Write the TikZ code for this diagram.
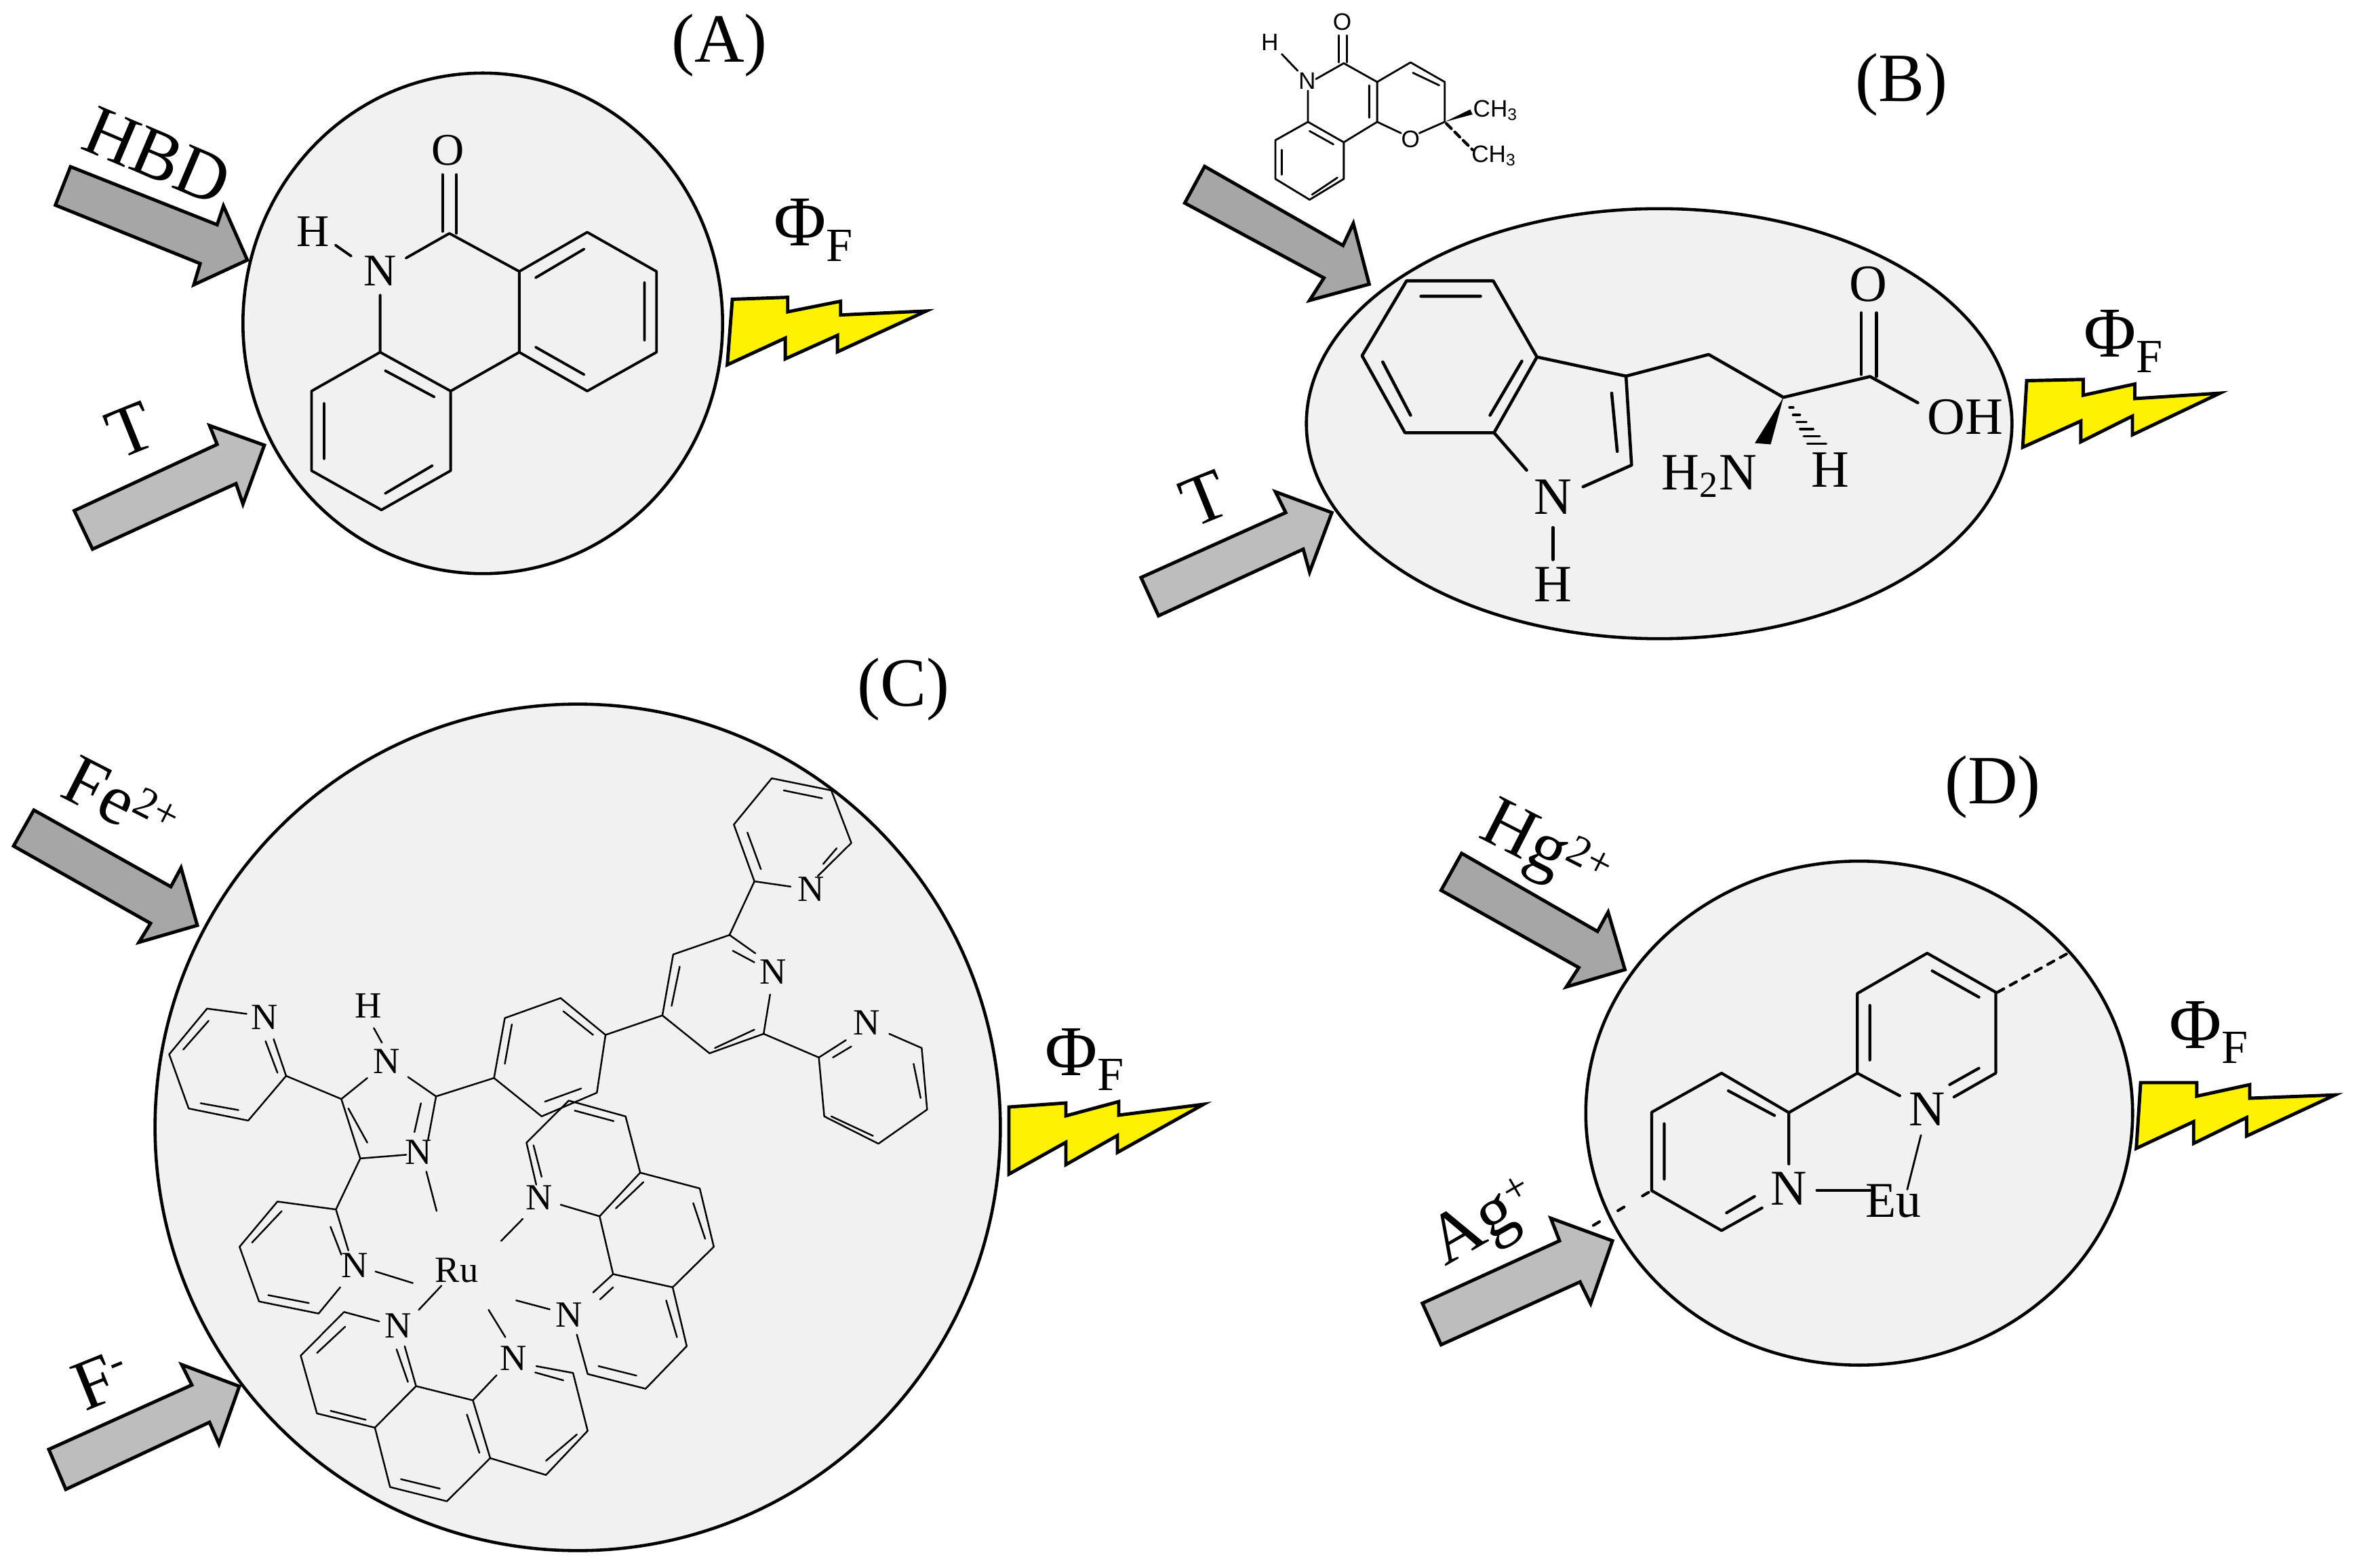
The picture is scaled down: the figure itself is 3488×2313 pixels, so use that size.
\documentclass[tikz,border=0pt]{standalone}
\usepackage{fontspec}
\setmainfont{Liberation Serif}
\newfontfamily\smallsans{Liberation Sans}
\usetikzlibrary{shapes.geometric}
\newcommand{\fs}[1]{\fontsize{#1}{#1}\selectfont}
\newcommand{\phifnode}[3]{\node[anchor=base west,inner sep=0pt] (#1) at (#2,#3) {\fs{30}Φ\raisebox{-6.3pt}{\fs{20}F}};}
\newcommand{\hashbond}[5]{%
  \foreach \t in {0.2,0.36,0.52,0.68,0.84,1.0}{%
    \pgfmathsetmacro{\hx}{#1+\t*(#3-#1)}%
    \pgfmathsetmacro{\hy}{#2+\t*(#4-#2)}%
    \pgfmathsetmacro{\hw}{\t*#5}%
    \draw (\hx-\hw,\hy) -- (\hx+\hw,\hy);}}
\tikzset{
  cell/.style={draw=black,fill=cellgray,ellipse,line width=1.3pt,inner sep=0pt,outer sep=0pt},
  darkarrow/.style={draw=black,fill=arrowdark,line width=1.4pt,line join=miter},
  lightarrow/.style={draw=black,fill=arrowlight,line width=1.4pt,line join=miter},
  bolt/.style={draw=black,fill=yellow,line width=1.4pt,line join=miter},
  atomA/.style={inner sep=0pt,font=\fs{19}},
  atomB/.style={inner sep=0pt,font=\fs{22}},
  atomC/.style={inner sep=0pt,font=\fs{15.5}},
  atomD/.style={inner sep=0pt,font=\fs{21}},
  tag/.style={inner sep=0pt,font=\fs{29}},
  flow/.style={inner sep=0pt,font=\fs{30}},
}
\definecolor{cellgray}{HTML}{F1F1F1}
\definecolor{arrowdark}{HTML}{A6A6A6}
\definecolor{arrowlight}{HTML}{BDBDBD}
\begin{document}
\begin{tikzpicture}[x=0.01cm,y=-0.01cm,line cap=round,line join=round]
\useasboundingbox (0,0) rectangle (3488,2313);
% ---------- cells
\node[cell,minimum width=7.07cm,minimum height=7.38cm] (cellA) at (712,477) {};
\node[cell,minimum width=10.40cm,minimum height=6.34cm] (cellB) at (2447,625) {};
\node[cell,minimum width=12.46cm,minimum height=12.48cm] (cellC) at (852,1663) {};
\node[cell,minimum width=8.06cm,minimum height=7.43cm] (cellD) at (2742,1642) {};
% ---------- tags
\node[tag] (tagA) at (1061,67) {(A)};
\node[tag] (tagB) at (2804,125) {(B)};
\node[tag] (tagC) at (1332,1017) {(C)};
\node[tag] (tagD) at (2939,1161) {(D)};
% ---------- quantum yield labels
\phifnode{phiA}{1141}{363}
\phifnode{phiB}{3073}{527}
\phifnode{phiC}{1541}{1586}
\phifnode{phiD}{3199}{1546}
% ---------- flow labels
\node[flow,rotate=-23] (hbd) at (232,230) {HBD};
\node[flow,rotate=22] (tA) at (192,634) {T};
\node[flow,rotate=22] (tB) at (1776,735) {T};
\node[flow,rotate=-27] (fe) at (178,1182) {Fe\raisebox{8pt}{\fs{18}2+}};
\node[flow,rotate=22] (fm) at (150,2036) {F\raisebox{9pt}{\fs{18}-}};
\node[flow,rotate=-27] (hg) at (2277,1258) {Hg\raisebox{8pt}{\fs{18}2+}};
\node[flow,rotate=30] (ag) at (2191,1807) {Ag\raisebox{8pt}{\fs{18}+}};
% ---------- panel C arrows and bolt (true pixels)
\draw[darkarrow] (50,1195)--(252,1308)--(267,1280)--(291,1365)--(205,1390)--(222,1362)--(20,1248)--cycle;
\draw[lightarrow] (72,2138)--(283,2043)--(268,2013)--(353,2045)--(323,2130)--(309,2098)--(97,2197)--cycle;
\draw[bolt] (1488,1633)--(1572,1627)--(1572,1646)--(1650,1625)--(1650,1645)--(1775,1629)--(1648,1700)--(1648,1675)--(1572,1718)--(1572,1685)--(1488,1732)--cycle;
% ---------- panel A
\begin{scope}[x=0.00928cm,y=-0.00578cm,line width=1.1pt]
\draw[darkarrow] (112,425)--(345,573)--(355,525)--(393,663)--(308,726)--(318,672)--(88,523)--cycle;
\draw[lightarrow] (118,1302)--(345,1133)--(333,1085)--(420,1135)--(386,1285)--(375,1233)--(147,1400)--cycle;
\draw[bolt,xshift=-0.06cm] (1170,763)--(1258,758)--(1258,795)--(1342,768)--(1342,803)--(1478,793)--(1337,897)--(1337,855)--(1254,915)--(1254,862)--(1162,930)--cycle;
\draw (825,692)--(933,592)--(1043,692)--(1043,898)--(933,997)--(825,898)--cycle;
\draw (851,708)--(928,635) (1024,720)--(1024,868) (851,885)--(928,955);
\draw (825,692)--(714,595)--(645,658);
\draw (703,590)--(703,445) (725,595)--(725,445);
\draw (825,898)--(716,997);
\draw (604,898)--(716,997)--(716,1200)--(606,1300)--(495,1200)--(495,997)--cycle;
\draw (612,945)--(690,1012) (515,1028)--(515,1170) (612,1258)--(687,1187);
\draw (604,752)--(604,898) (533,625)--(558,653);
\node[atomA] (aO) at (712,383) {O};
\node[atomA] (aH) at (497,590) {H};
\node[atomA] (aN) at (604,690) {N};
\end{scope}
% ---------- panel B
\begin{scope}[shift={(1650,0)},x=0.01172cm,y=-0.00613cm,line width=1.3pt]
\draw[darkarrow] (108,400)--(282,590)--(295,537)--(315,683)--(240,722)--(258,668)--(83,488)--cycle;
\draw[lightarrow] (28,1388)--(210,1232)--(197,1182)--(268,1232)--(240,1375)--(232,1320)--(50,1480)--cycle;
\draw[bolt] (1142,915)--(1213,912)--(1213,950)--(1278,923)--(1278,958)--(1385,945)--(1275,1045)--(1275,1000)--(1210,1062)--(1210,1012)--(1137,1075)--cycle;
% small molecule
\begin{scope}[line width=0.8pt]
\draw (277,85)--(277,150) (287,85)--(287,150);
\draw (248,190)--(283,152)--(325,197)--(367,150)--(410,197)--(410,293)--(378,320);
\draw (355,320)--(325,293)--(325,197);
\draw (370,175)--(403,205) (315,205)--(315,283);
\draw (205,130)--(225,170) (238,218)--(238,293);
\draw (325,293)--(283,342);
\draw (238,293)--(283,342)--(283,430)--(240,480)--(197,430)--(197,337)--cycle;
\draw (240,315)--(270,347) (205,360)--(205,420) (243,468)--(275,427);
\fill (410,293)--(445,275)--(442,263)--cycle;
\draw[densely dashed,line width=1.2pt] (412,297)--(445,360);
\node[inner sep=0pt,font=\smallsans\fs{10}] (sO1) at (281,52) {O};
\node[inner sep=0pt,font=\smallsans\fs{10}] (sH) at (190,102) {H};
\node[inner sep=0pt,font=\smallsans\fs{10}] (sN) at (237,195) {N};
\node[inner sep=0pt,font=\smallsans\fs{10}] (sO2) at (367,335) {O};
\node[inner sep=0pt,font=\smallsans\fs{10}] (sMe1) at (474,265) {CH\textsubscript{3}};
\node[inner sep=0pt,font=\smallsans\fs{10}] (sMe2) at (472,375) {CH\textsubscript{3}};
\end{scope}
% tryptophan
\draw (362,675)--(471,675)--(526,858)--(472,1040)--(360,1040)--(306,855)--cycle;
\draw (380,712)--(455,712) (332,870)--(367,998) (507,868)--(467,998);
\draw (526,858)--(638,904)--(645,1118)--(584,1170) (472,1040)--(513,1130) (620,945)--(627,1085);
\draw (546,1268)--(546,1345);
\draw (638,904)--(742,852)--(836,955)--(945,905)--(1005,968);
\draw (934,752)--(934,900) (953,752)--(953,905);
\fill (836,955)--(800,1065)--(820,1068)--cycle;
\begin{scope}[line width=1pt]
\hashbond{838}{958}{878}{1066}{12}
\end{scope}
\node[atomB] (bO) at (943,683) {O};
\node[atomB] (bOH) at (1065,1003) {OH};
\node[atomB] (bNH) at (743,1145) {H\textsubscript{2}N};
\node[atomB] (bH) at (895,1130) {H};
\node[atomB] (bN) at (546,1195) {N};
\node[atomB] (bH2) at (546,1405) {H};
\end{scope}
% ---------- panel C molecule
\begin{scope}[shift={(200,1100)},x=0.00798cm,y=-0.00775cm,line width=0.7pt]
% top pyridine
\draw (1260,248)--(1322,185)--(1285,85)--(1175,62)--(1105,150)--(1143,258)--(1210,268);
\draw (1197,85)--(1268,100) (1130,165)--(1155,235) (1295,195)--(1270,225);
\draw (1143,258)--(1097,360);
% central pyridine
\draw (1145,395)--(1097,360)--(993,397)--(973,513)--(1060,585)--(1160,548)--(1172,473);
\draw (1103,390)--(1143,412) (1005,420)--(990,495) (1070,575)--(1143,540);
\draw (1160,548)--(1262,593);
% right pyridine
\draw (1312,560)--(1262,593)--(1272,705)--(1372,757)--(1462,692)--(1452,575)--(1392,548);
\draw (1288,593)--(1322,572) (1285,705)--(1362,742) (1450,670)--(1437,605);
\draw (973,513)--(868,550);
% benzene
\draw (868,550)--(785,480)--(682,518)--(662,632)--(750,705)--(852,660)--cycle;
\draw (790,505)--(845,550) (695,530)--(682,605) (756,677)--(823,652);
\draw (662,632)--(555,667);
% imidazole
\draw (503,630)--(555,667)--(540,750) (527,680)--(515,735);
\draw (500,778)--(415,785)--(380,672)--(428,632) (428,755)--(393,690);
\draw (440,537)--(455,565) (537,810)--(556,885);
\draw (380,672)--(278,628);
% left pyridine
\draw (255,558)--(278,628)--(208,713)--(98,690)--(62,587)--(132,500)--(205,510);
\draw (240,562)--(262,622) (120,680)--(190,693) (88,578)--(135,523);
\draw (415,785)--(370,882);
% lower pyridine
\draw (393,960)--(370,882)--(262,867)--(192,953)--(228,1057)--(338,1080)--(378,1030);
\draw (360,915)--(380,968) (215,945)--(270,885) (245,1045)--(320,1060);
\draw (443,1000)--(512,1022) (565,1027)--(523,1073);
% lower phenanthroline
\draw (450,1095)--(385,1077)--(305,1160)--(335,1270)--(442,1297)--(518,1218)--(497,1142);
\draw (482,1148)--(503,1210) (335,1155)--(387,1105) (360,1265)--(425,1282);
\draw (518,1218)--(623,1245)--(667,1197) (623,1245)--(655,1355) (612,1272)--(635,1345);
\draw (442,1297)--(470,1410)--(575,1437)--(655,1355)--(758,1387)--(835,1303)--(808,1193)--(740,1180);
\draw (738,1192)--(790,1207) (758,1360)--(815,1310) (490,1395)--(562,1413);
\draw (652,1073)--(683,1125);
% upper phenanthroline
\draw (785,873)--(857,895) (722,755)--(740,835) (735,760)--(750,820);
\draw (722,755)--(800,675)--(905,705)--(932,812)--(857,895)--(882,1005);
\draw (811,694)--(883,714);
\draw (932,812)--(1042,842)--(1068,953)--(992,1030)--(882,1005);
\draw (887,880)--(938,830) (1030,870)--(1052,938);
\draw (992,1030)--(1018,1142)--(942,1223)--(835,1195)--(815,1120);
\draw (980,1055)--(1000,1125) (855,1180)--(925,1198);
\draw (882,1005)--(845,1040) (882,1030)--(858,1053);
\draw (703,1055)--(765,1072) (715,900)--(675,942);
\node[atomC] (cN1) at (1247,273) {N};
\node[atomC] (cN2) at (1177,430) {N};
\node[atomC] (cN3) at (1350,527) {N};
\node[atomC] (cN4) at (463,600) {N};
\node[atomC] (cH) at (430,495) {H};
\node[atomC] (cN5) at (523,773) {N};
\node[atomC] (cN6) at (238,517) {N};
\node[atomC] (cN7) at (405,988) {N};
\node[atomC] (cRu) at (593,998) {Ru};
\node[atomC] (cN8) at (485,1103) {N};
\node[atomC] (cN9) at (698,1165) {N};
\node[atomC] (cN10) at (745,860) {N};
\node[atomC] (cN11) at (800,1082) {N};
\end{scope}
% ---------- panel D
\begin{scope}[shift={(2050,1100)},x=0.00918cm,y=-0.00606cm,line width=1.2pt]
\draw[darkarrow] (115,262)--(333,452)--(350,405)--(377,545)--(283,587)--(303,540)--(82,352)--cycle;
\draw[lightarrow] (52,1357)--(272,1205)--(258,1150)--(357,1205)--(322,1358)--(305,1305)--(82,1458)--cycle;
\draw[bolt,xshift=-0.05cm] (1210,820)--(1300,820)--(1300,853)--(1385,825)--(1385,858)--(1522,850)--(1380,950)--(1380,905)--(1295,968)--(1295,915)--(1203,980)--cycle;
\draw (818,852)--(750,797)--(750,603)--(862,505)--(972,600)--(972,797)--(905,855);
\draw (870,548)--(945,612) (770,632)--(770,765) (898,825)--(945,785);
\draw[dashed] (975,600)--(1088,505);
\draw (640,1018)--(640,893)--(532,797)--(420,892)--(420,1083)--(532,1180)--(597,1125);
\draw (543,840)--(617,900) (440,920)--(440,1055) (540,1137)--(585,1097);
\draw (640,893)--(750,797);
\draw[dash pattern=on 3pt off 9pt] (415,1087)--(318,1175);
\draw (685,1082)--(770,1082);
\draw[line width=0.8pt] (852,948)--(830,1080);
\node[atomD] (dN1) at (862,885) {N};
\node[atomD] (dN2) at (640,1078) {N};
\node[atomD] (dEu) at (808,1108) {Eu};
\end{scope}
\end{tikzpicture}
\end{document}
